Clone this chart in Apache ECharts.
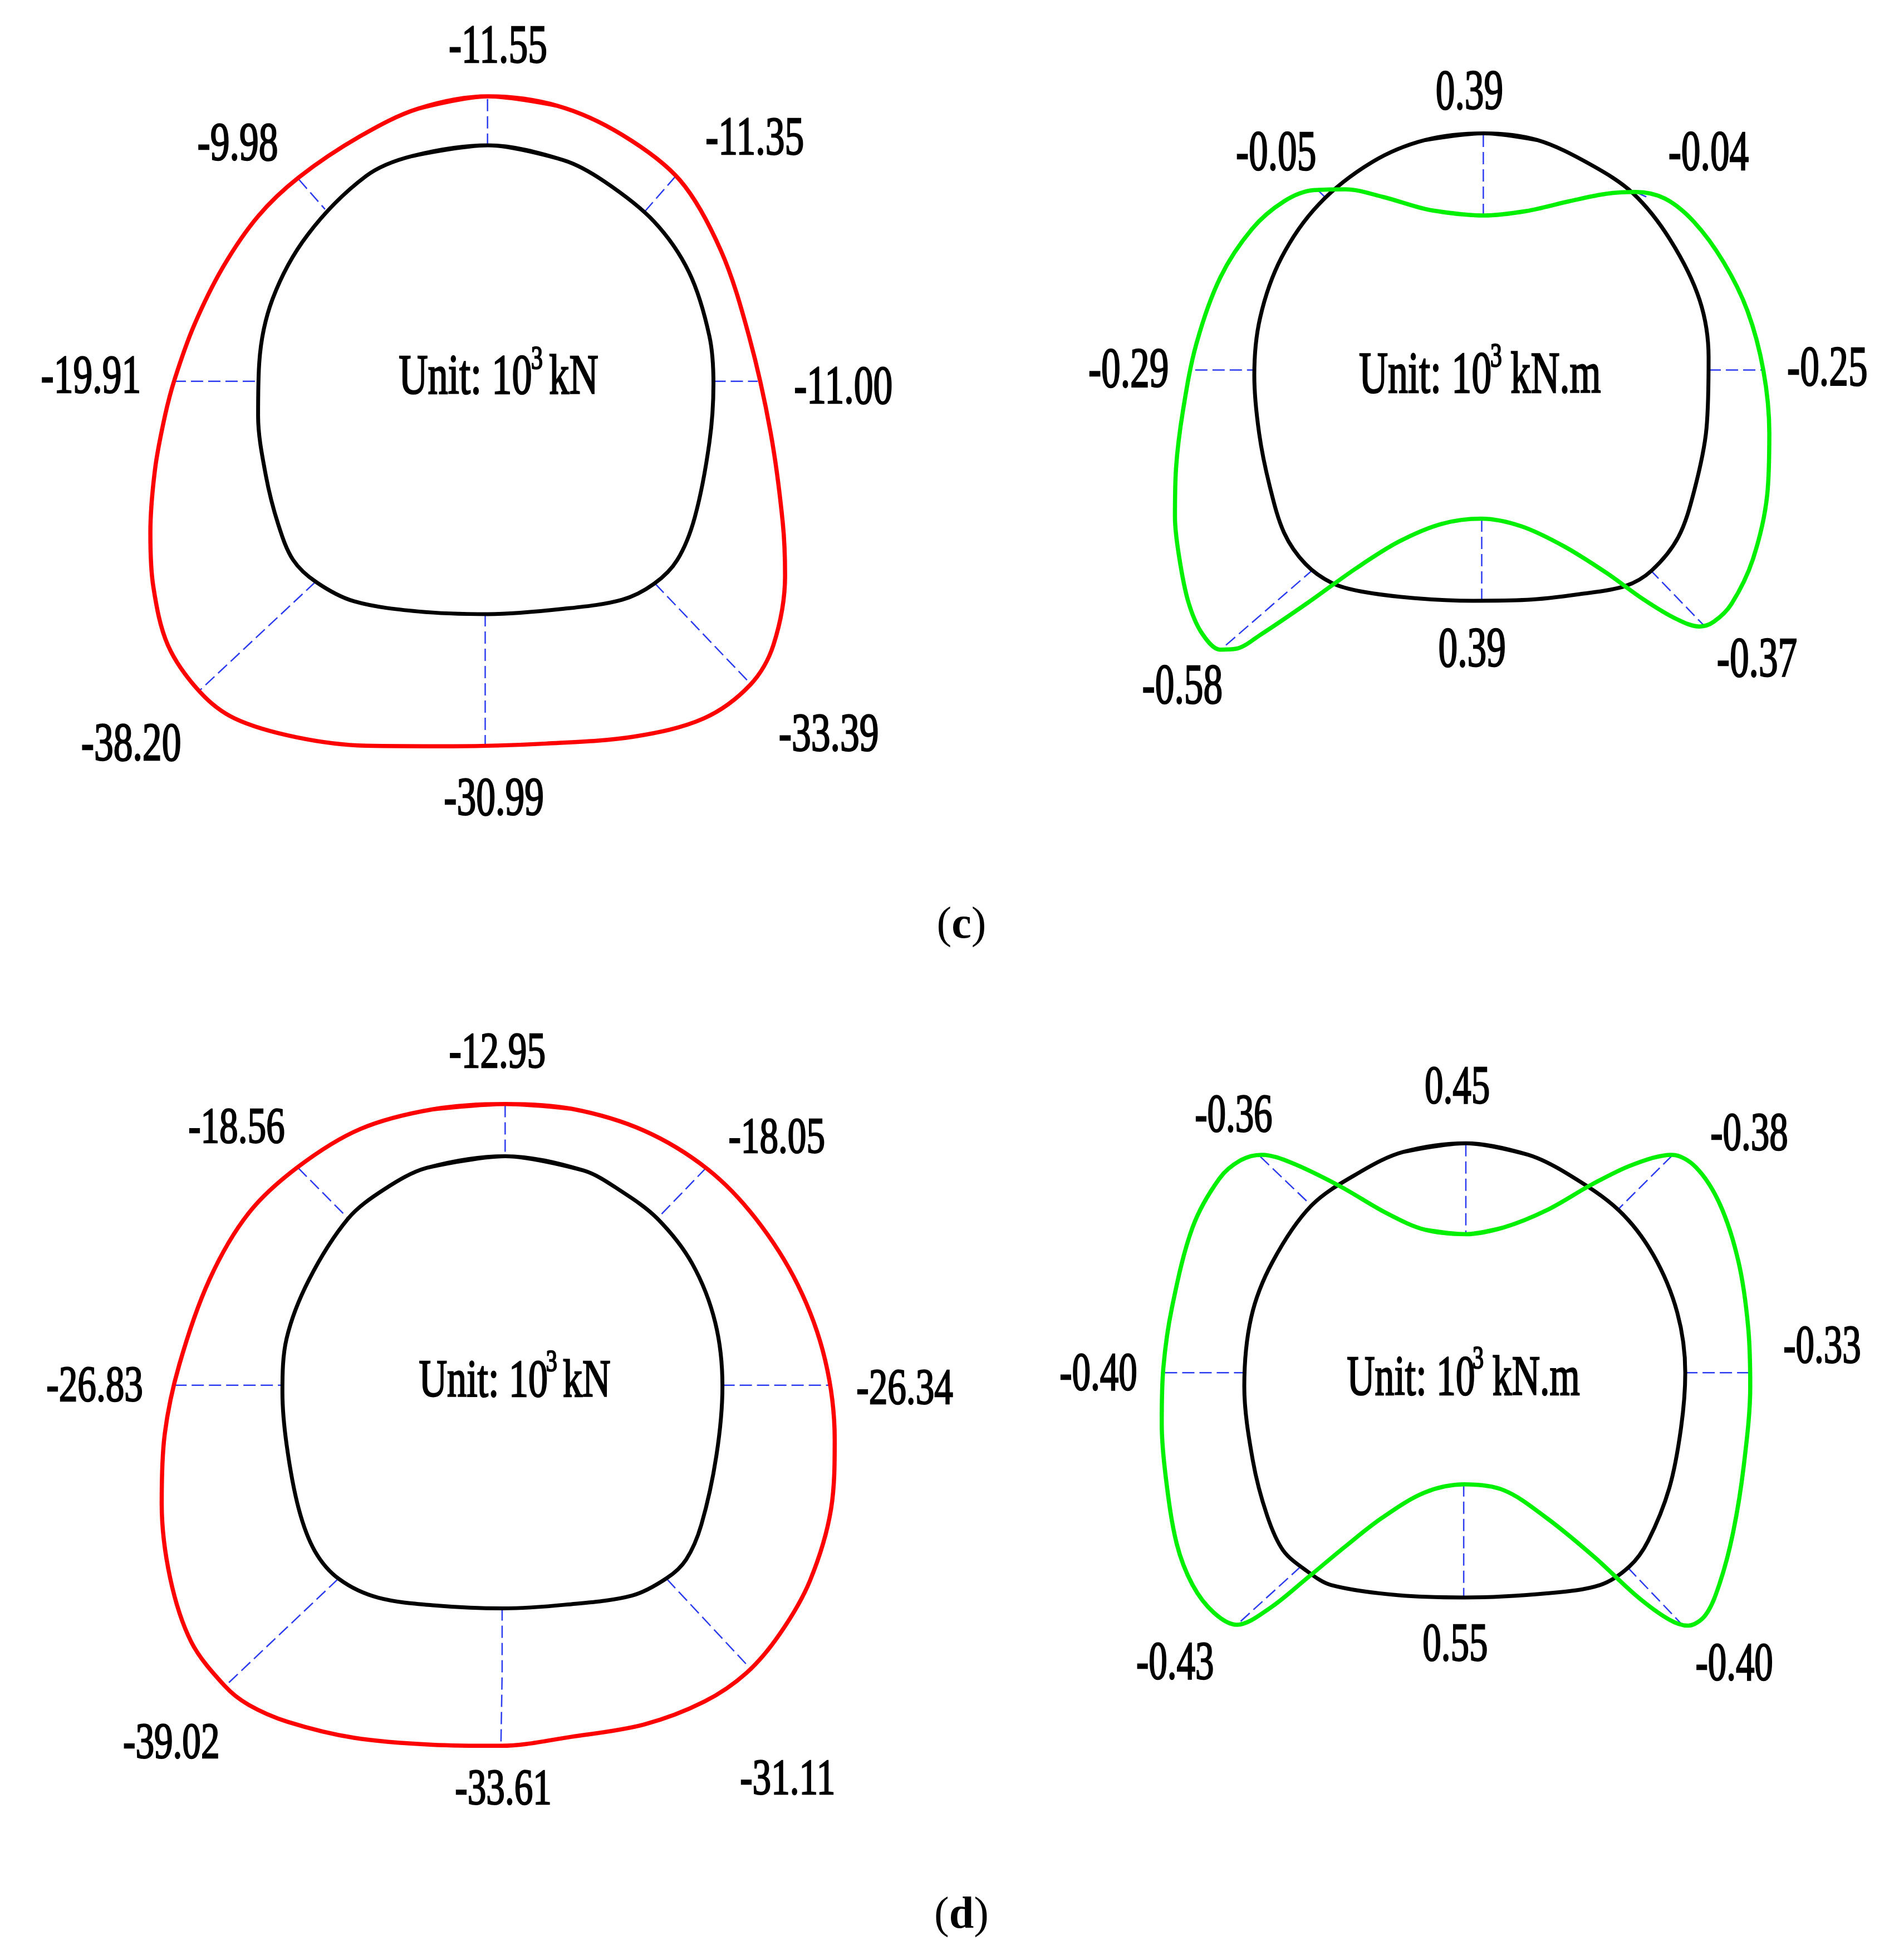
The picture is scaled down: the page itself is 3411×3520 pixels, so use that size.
<!DOCTYPE html>
<html>
<head>
<meta charset="utf-8">
<title>Tunnel lining force diagrams</title>
<script src="https://cdn.jsdelivr.net/npm/echarts@6/dist/echarts.min.js"></script>
<style>
  html, body { margin: 0; background: #fff; }
  #chart { width: 3411px; height: 3520px; }
</style>
</head>
<body>
<div id="chart"></div>
<script>

// (c) axial force
const cForceValues = ['-11.55', '-9.98', '-11.35', '-19.91', '-11.00', '-38.20', '-33.39', '-30.99']
const cForceAnchors = [[817, 65], [370, 248], [1258, 238], [118, 685], [1410, 705], [187, 1375], [1385, 1357], [810, 1477]]
const cForceOuter = [[800,160],[920,178],[1030,232],[1130,318],[1200,450],[1248,610],[1285,790],[1306,960],[1310,1060],[1290,1190],[1250,1265],[1170,1328],[1050,1362],[900,1375],[740,1380],[590,1379],[470,1363],[365,1328],[305,1278],[250,1190],[225,1080],[220,980],[228,860],[245,760],[262,690],[295,590],[345,480],[405,385],[475,312],[580,235],[680,183],[800,160]]
const cForceLining = [[800,252],[930,280],[1000,320],[1085,395],[1145,490],[1180,610],[1187,700],[1180,810],[1155,950],[1125,1030],[1085,1075],[1030,1105],[930,1122],[800,1132],[680,1127],[570,1108],[505,1072],[465,1030],[440,965],[418,870],[405,760],[407,660],[430,540],[490,420],[590,310],[670,272],[800,252]]
const cForceLeaders = [[[799,165],[799,250]],[[475,316],[520,372]],[[1122,310],[1070,375]],[[260,695],[404,695]],[[1187,695],[1263,695]],[[503,1072],[305,1275]],[[795,1132],[795,1376]],[[1087,1075],[1250,1262]]]
const cForceUnit = ['Unit: 10', 'kN']
const cForceUnitAnchors = [[761, 683], [947, 683]]
const cForceSupAnchor = [[884, 649]]

// (c) bending moment
const cMomentValues = ['0.39', '-0.05', '-0.04', '-0.29', '-0.25', '-0.58', '-0.37', '0.39']
const cMomentAnchors = [[773, 82], [410, 218], [1222, 218], [133, 708], [1445, 704], [234, 1420], [1313, 1360], [778, 1338]]
const cMomentOuter = [[800,360],[880,350],[960,328],[1030,311],[1085,307],[1140,322],[1195,375],[1250,465],[1295,575],[1325,710],[1336,850],[1332,990],[1305,1135],[1265,1235],[1232,1275],[1205,1286],[1160,1268],[1100,1225],[1030,1165],[950,1105],[870,1060],[795,1043],[720,1055],[640,1095],[560,1155],[470,1232],[380,1305],[335,1336],[305,1338],[270,1300],[245,1230],[228,1130],[220,1040],[222,930],[235,800],[260,650],[305,500],[365,390],[425,328],[480,303],[540,301],[610,318],[700,348],[800,360]]
const cMomentLining = [[800,175],[900,190],[1000,245],[1080,310],[1150,415],[1205,550],[1222,680],[1218,840],[1195,980],[1165,1085],[1115,1160],[1065,1195],[980,1213],[880,1226],[780,1228],[670,1222],[570,1207],[515,1188],[465,1145],[425,1075],[398,970],[378,850],[369,720],[380,590],[420,455],[490,335],[590,240],[690,190],[800,175]]
const cMomentLeaders = [[[799,178],[799,358]],[[490,305],[503,320]],[[1090,310],[1105,318]],[[258,708],[369,708]],[[1222,708],[1322,708]],[[480,1157],[308,1336]],[[796,1045],[796,1226]],[[1112,1158],[1212,1282]]]
const cMomentUnit = ['Unit: 10', 'kN.m']
const cMomentUnitAnchors = [[690, 715], [935, 715]]
const cMomentSupAnchor = [[823, 672]]

// (d) axial force
const dForceValues = ['-12.95', '-18.56', '-18.05', '-26.83', '-26.34', '-39.02', '-33.61', '-31.11']
const dForceAnchors = [[787, 72], [355, 213], [1250, 232], [120, 698], [1462, 703], [247, 1368], [797, 1455], [1268, 1436]]
const dForceOuter = [[800,170],[910,179],[1030,220],[1135,292],[1215,385],[1285,510],[1330,650],[1346,800],[1340,930],[1305,1065],[1255,1165],[1200,1238],[1130,1292],[1030,1335],[910,1358],[793,1375],[680,1373],[550,1360],[440,1330],[375,1298],[335,1262],[280,1180],[245,1060],[231,920],[236,790],[260,660],[310,500],[375,375],[457,288],[560,217],[680,180],[800,170]]
const dForceLining = [[800,268],[930,295],[990,332],[1052,385],[1110,470],[1148,580],[1160,700],[1150,830],[1125,960],[1100,1025],[1068,1060],[1010,1093],[900,1110],[795,1117],[690,1112],[590,1097],[525,1062],[485,1010],[458,930],[438,810],[431,710],[438,610],[475,500],[540,385],[600,330],[670,290],[800,268]]
const dForceLeaders = [[[800,172],[800,266]],[[457,290],[540,385]],[[1133,290],[1052,385]],[[252,698],[431,698]],[[1160,698],[1338,698]],[[523,1062],[336,1263]],[[795,1117],[795,1240],[793,1374]],[[1068,1062],[1208,1232]]]
const dForceUnit = ['Unit: 10', 'kN']
const dForceUnitAnchors = [[764, 685], [935, 685]]
const dForceSupAnchor = [[877, 650]]

// (d) bending moment
const dMomentValues = ['0.45', '-0.36', '-0.38', '-0.40', '-0.33', '-0.43', '0.55', '-0.40']
const dMomentAnchors = [[792, 110], [372, 172], [1340, 212], [118, 732], [1477, 672], [262, 1357], [788, 1318], [1312, 1360]]
const dMomentOuter = [[808,430],[880,415],[960,378],[1045,322],[1120,280],[1195,258],[1240,285],[1285,365],[1320,490],[1338,630],[1342,760],[1330,930],[1310,1075],[1285,1185],[1258,1255],[1225,1278],[1190,1265],[1130,1215],[1050,1130],[960,1045],[880,985],[805,972],[730,990],[650,1045],[580,1108],[510,1175],[440,1240],[378,1276],[335,1250],[295,1190],[265,1100],[245,960],[237,840],[240,720],[256,590],[295,415],[345,310],[385,270],[425,258],[480,275],[570,325],[660,385],[730,420],[808,430]]
const dMomentLining = [[808,233],[925,258],[1000,300],[1095,378],[1160,475],[1205,600],[1220,730],[1212,850],[1190,980],[1150,1095],[1115,1150],[1060,1190],[960,1208],[805,1217],[680,1212],[555,1190],[510,1160],[465,1115],[435,1040],[408,920],[392,760],[405,610],[445,490],[518,368],[610,295],[690,252],[808,233]]
const dMomentLeaders = [[[808,235],[808,430]],[[422,262],[518,368]],[[1195,260],[1095,375]],[[243,730],[390,730]],[[1220,730],[1340,730]],[[498,1150],[382,1272]],[[804,972],[804,1217]],[[1112,1152],[1215,1277]]]
const dMomentUnit = ['Unit: 10', 'kN.m']
const dMomentUnitAnchors = [[705, 737], [940, 737]]
const dMomentSupAnchor = [[831, 695]]

const PANEL_SPAN = 1568
const FONT = '"Liberation Serif", serif'
const RED = '#ff0000'
const GREEN = '#00f000'
const BLUE = '#2b3cf0'

const panels = [
  { box: [40, 20, 1640, 1500], color: RED, fontSize: 98, squeeze: 0.71, values: cForceValues, anchors: cForceAnchors, outer: cForceOuter, lining: cForceLining, leaders: cForceLeaders, unit: cForceUnit, unitAnchors: cForceUnitAnchors, supAnchor: cForceSupAnchor },
  { box: [1900, 100, 1500, 1250], color: GREEN, fontSize: 102, squeeze: 0.68, values: cMomentValues, anchors: cMomentAnchors, outer: cMomentOuter, lining: cMomentLining, leaders: cMomentLeaders, unit: cMomentUnit, unitAnchors: cMomentUnitAnchors, supAnchor: cMomentSupAnchor },
  { box: [40, 1820, 1700, 1500], color: RED, fontSize: 92, squeeze: 0.73, values: dForceValues, anchors: dForceAnchors, outer: dForceOuter, lining: dForceLining, leaders: dForceLeaders, unit: dForceUnit, unitAnchors: dForceUnitAnchors, supAnchor: dForceSupAnchor },
  { box: [1860, 1860, 1500, 1300], color: GREEN, fontSize: 97, squeeze: 0.69, values: dMomentValues, anchors: dMomentAnchors, outer: dMomentOuter, lining: dMomentLining, leaders: dMomentLeaders, unit: dMomentUnit, unitAnchors: dMomentUnitAnchors, supAnchor: dMomentSupAnchor },
]

// the reference text is tall and narrow, so squeeze it with a scale on the element
function textSeries(i, texts, anchors, fontSize, squeeze, nudge) {
  return {
    type: 'custom',
    xAxisIndex: i,
    yAxisIndex: i,
    silent: true,
    clip: false,
    encode: { x: 0, y: 1 },
    data: anchors,
    renderItem: (params, api) => {
      const pos = api.coord([api.value(0), api.value(1)])
      return {
        type: 'text',
        x: pos[0],
        y: pos[1] + nudge,
        scaleX: squeeze,
        style: {
          text: texts[params.dataIndex],
          font: `${fontSize}px ${FONT}`,
          fill: '#000',
          stroke: '#000',
          lineWidth: 2.5,
          textAlign: 'center',
          textVerticalAlign: 'middle',
        },
      }
    },
  }
}

// wrap one segment past the seam so the smoothing has no kink where the loop closes
function closeLoop(points) {
  return [points[points.length - 2], ...points, points[1]]
}

function lineSeries(i, data, color, width, type) {
  return {
    type: 'line',
    xAxisIndex: i,
    yAxisIndex: i,
    data,
    symbol: 'none',
    smooth: type ? false : 0.33,
    silent: true,
    lineStyle: { color, width, type: type || 'solid' },
  }
}

const series = []
panels.forEach((p, i) => {
  p.leaders.forEach((l) => series.push(lineSeries(i, l, BLUE, 2.5, [22, 9])))
  series.push(lineSeries(i, closeLoop(p.lining), '#000', 7))
  series.push(lineSeries(i, closeLoop(p.outer), p.color, 7.5))
  series.push(textSeries(i, p.values, p.anchors, p.fontSize, p.squeeze, 4))
  series.push(textSeries(i, p.unit, p.unitAnchors, p.fontSize + 4, p.squeeze, 7))
  series.push(textSeries(i, ['3'], p.supAnchor, Math.round(p.fontSize * 0.6), p.squeeze, 6))
})

const captionStyle = {
  fontFamily: FONT,
  fontSize: 80,
  color: '#000',
  rich: {
    n: { fontFamily: FONT, fontSize: 80, fontWeight: 'normal', color: '#000' },
    b: { fontFamily: FONT, fontSize: 80, fontWeight: 'bold', color: '#000' },
  },
}

const chart = echarts.init(document.getElementById('chart'), null, { renderer: 'canvas' })
chart.setOption({
  animation: false,
  backgroundColor: '#fff',
  title: [
    { text: '{n|(}{b|c}{n|)}', left: 1722, top: 1618, textAlign: 'center', textStyle: captionStyle },
    { text: '{n|(}{b|d}{n|)}', left: 1722, top: 3396, textAlign: 'center', textStyle: captionStyle },
  ],
  grid: panels.map((p) => ({ left: p.box[0], top: p.box[1], width: p.box[2], height: p.box[3] })),
  xAxis: panels.map((p, i) => ({ type: 'value', gridIndex: i, min: 0, max: PANEL_SPAN, show: false })),
  yAxis: panels.map((p, i) => ({ type: 'value', gridIndex: i, min: 0, max: PANEL_SPAN, inverse: true, show: false })),
  series,
})
</script>
</body>
</html>
